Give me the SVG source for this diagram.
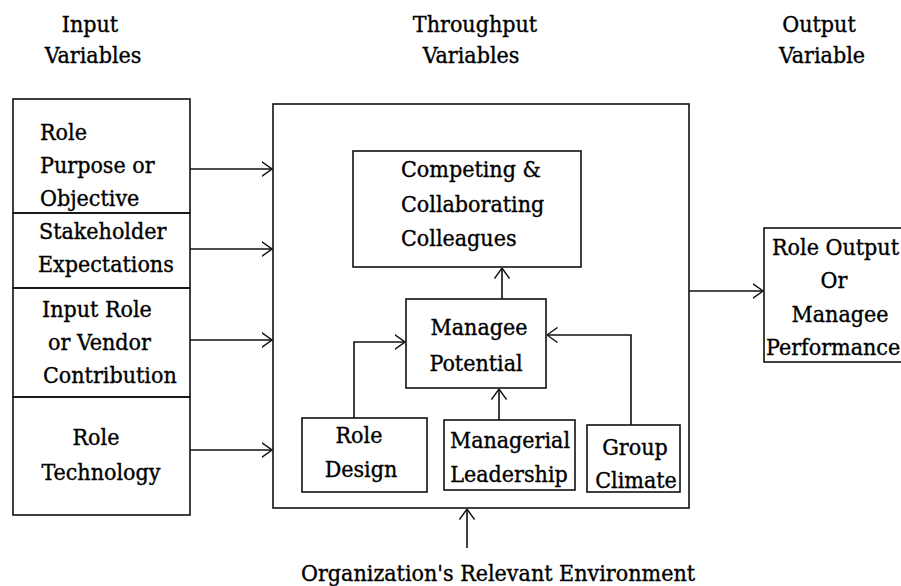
<svg xmlns="http://www.w3.org/2000/svg" width="901" height="586" viewBox="0 0 901 586">
<style>
  .box { fill: none; stroke: #111; stroke-width: 1.6; }
  .ln { fill: none; stroke: #111; stroke-width: 1.6; }
  .t text { font-family: "DejaVu Serif Condensed", "DejaVu Serif", serif; font-stretch: condensed; font-size: 23px; fill: #000; stroke: #000; stroke-width: 0.35; }
  .m { text-anchor: middle; }
</style>
<defs>
  <marker id="arr" viewBox="0 0 11 16" refX="10.5" refY="8" markerWidth="11" markerHeight="16" markerUnits="userSpaceOnUse" orient="auto">
    <path d="M0,0.5 L10.5,8 L0,15.5" fill="none" stroke="#111" stroke-width="1.4"/>
  </marker>
</defs>
<rect width="901" height="586" fill="#fff"/>

<g class="t">
<g id="headers">
  <text class="m" x="90" y="32">Input</text>
  <text class="m" x="93" y="63">Variables</text>
  <text class="m" x="475" y="32">Throughput</text>
  <text class="m" x="471" y="63">Variables</text>
  <text class="m" x="819" y="32">Output</text>
  <text class="m" x="822" y="63">Variable</text>
</g>

<g id="input-role-purpose">
  <rect class="box" x="13" y="99" width="177" height="114"/>
  <text x="40" y="140">Role</text>
  <text x="40" y="173">Purpose or</text>
  <text x="40" y="206">Objective</text>
</g>
<g id="input-stakeholder">
  <rect class="box" x="13" y="213" width="177" height="75"/>
  <text x="39" y="239">Stakeholder</text>
  <text x="38" y="272">Expectations</text>
</g>
<g id="input-vendor">
  <rect class="box" x="13" y="288" width="177" height="109"/>
  <text x="42" y="317">Input Role</text>
  <text x="48" y="350">or Vendor</text>
  <text x="43" y="383">Contribution</text>
</g>
<g id="input-technology">
  <rect class="box" x="13" y="397" width="177" height="118"/>
  <text class="m" x="96" y="445">Role</text>
  <text class="m" x="101" y="480">Technology</text>
</g>

<g id="throughput">
  <rect class="box" x="273" y="104" width="416" height="404"/>
</g>
<g id="competing">
  <rect class="box" x="353" y="151" width="228" height="116"/>
  <text x="401" y="177">Competing &amp;</text>
  <text x="401" y="212">Collaborating</text>
  <text x="401" y="246">Colleagues</text>
</g>
<g id="managee-potential">
  <rect class="box" x="406" y="299" width="140" height="89"/>
  <text class="m" x="479" y="335">Managee</text>
  <text class="m" x="476" y="371">Potential</text>
</g>
<g id="role-design">
  <rect class="box" x="302" y="418" width="125" height="74"/>
  <text class="m" x="359" y="443">Role</text>
  <text class="m" x="361" y="477">Design</text>
</g>
<g id="managerial-leadership">
  <rect class="box" x="444" y="420" width="131" height="70"/>
  <text class="m" x="510" y="448">Managerial</text>
  <text class="m" x="509" y="482">Leadership</text>
</g>
<g id="group-climate">
  <rect class="box" x="587" y="425" width="93" height="67"/>
  <text class="m" x="635" y="455">Group</text>
  <text class="m" x="636" y="488">Climate</text>
</g>
<g id="output">
  <rect class="box" x="764" y="228" width="142" height="134"/>
  <text x="772" y="255">Role Output</text>
  <text class="m" x="834" y="288">Or</text>
  <text class="m" x="840" y="322">Managee</text>
  <text x="766" y="355">Performance</text>
</g>
<g id="environment">
  <text x="301" y="581">Organization's Relevant Environment</text>
</g>
</g>

<g id="connectors">
  <line class="ln" x1="190" y1="169" x2="272" y2="169" marker-end="url(#arr)"/>
  <line class="ln" x1="190" y1="249" x2="272" y2="249" marker-end="url(#arr)"/>
  <line class="ln" x1="190" y1="340" x2="272" y2="340" marker-end="url(#arr)"/>
  <line class="ln" x1="190" y1="450" x2="272" y2="450" marker-end="url(#arr)"/>
  <line class="ln" x1="502" y1="299" x2="502" y2="268" marker-end="url(#arr)"/>
  <polyline class="ln" points="354,418 354,342 405,342" marker-end="url(#arr)"/>
  <line class="ln" x1="499" y1="420" x2="499" y2="389" marker-end="url(#arr)"/>
  <polyline class="ln" points="631,425 631,335 547,335" marker-end="url(#arr)"/>
  <line class="ln" x1="689" y1="291" x2="763" y2="291" marker-end="url(#arr)"/>
  <line class="ln" x1="467" y1="548" x2="467" y2="509" marker-end="url(#arr)"/>
</g>
</svg>
